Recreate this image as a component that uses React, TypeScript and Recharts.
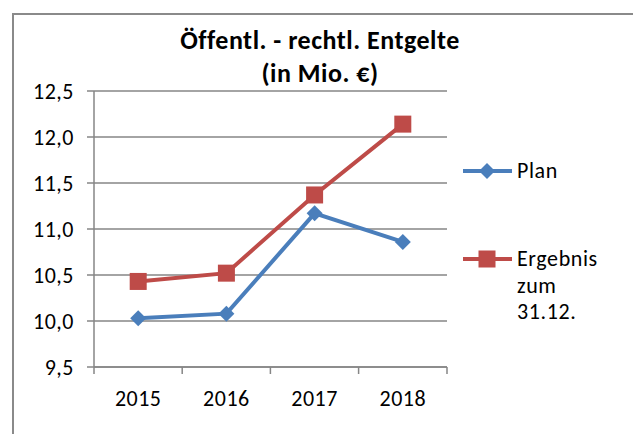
import React from "react";
import { LineChart, Line, XAxis, YAxis, CartesianGrid, Legend } from "recharts";

const years = ["2015", "2016", "2017", "2018"];
const plan = [10.03, 10.08, 11.17, 10.86];
const ergebnis = [10.43, 10.52, 11.37, 12.14];
const yTicks = [9.5, 10, 10.5, 11, 11.5, 12, 12.5];
const seriesNames = ["Plan", "Ergebnis zum 31.12."];

const BLUE = "#4A7EBB";
const RED = "#BE4B48";
const GRID = "#868686";
const FONT = "Carlito, Lato, sans-serif";

const data = years.map((y, i) => ({ year: y, plan: plan[i], ergebnis: ergebnis[i] }));

const TICK = 7;
const X_MARGIN = 16;
const HALF = 44.2;

const Diamond = (props: any) => {
  const { cx, cy } = props;
  if (cx == null || cy == null) return null;
  return <path d={`M${cx},${cy - 8} L${cx + 8},${cy} L${cx},${cy + 8} L${cx - 8},${cy} Z`} fill={BLUE} />;
};

const Square = (props: any) => {
  const { cx, cy } = props;
  if (cx == null || cy == null) return null;
  return <rect x={cx - 8.5} y={cy - 8.5} width={17} height={17} fill={RED} />;
};

const YearTick = (props: any) => {
  const { x, y, payload, index, visibleTicksCount } = props;
  const axisY = y - TICK - X_MARGIN;
  return (
    <g>
      <line x1={x - HALF} x2={x - HALF} y1={axisY} y2={axisY + TICK} stroke={GRID} strokeWidth={1.5} />
      {index === visibleTicksCount - 1 && (
        <line x1={x + HALF} x2={x + HALF} y1={axisY} y2={axisY + TICK} stroke={GRID} strokeWidth={1.5} />
      )}
      <text x={x} y={y} dy="0.71em" textAnchor="middle" fill="#000" fontSize={22} fontFamily={FONT} letterSpacing={0.5}>
        {payload.value}
      </text>
    </g>
  );
};

const LegendBox = () => (
  <div style={{ fontFamily: FONT, fontSize: 22, color: "#000", letterSpacing: 0.6 }}>
    <div style={{ display: "flex", alignItems: "flex-start", height: 88 }}>
      <svg width={62} height={26}>
        <line x1={8} x2={57} y1={13} y2={13} stroke={BLUE} strokeWidth={4} />
        <Diamond cx={32} cy={13} />
      </svg>
      <div style={{ lineHeight: "26px" }}>{seriesNames[0]}</div>
    </div>
    <div style={{ display: "flex", alignItems: "flex-start" }}>
      <svg width={62} height={26}>
        <line x1={8} x2={57} y1={13} y2={13} stroke={RED} strokeWidth={4} />
        <Square cx={32} cy={13} />
      </svg>
      <div style={{ lineHeight: "26.5px", width: 110 }}>
        Ergebnis
        <br />
        zum
        <br />
        31.12.
      </div>
    </div>
  </div>
);

export default function App() {
  return (
    <div style={{ position: "fixed", left: 0, top: 0, width: 633, height: 434, overflow: "hidden", background: "#fff" }}>
      <div
        style={{
          position: "absolute",
          left: 12,
          top: 13,
          width: 700,
          height: 500,
          borderLeft: "2px solid #8a8a8a",
          borderTop: "2px solid #8a8a8a",
        }}
      />
      <div
        style={{
          position: "absolute",
          left: 0,
          width: 640,
          top: 24,
          textAlign: "center",
          fontFamily: FONT,
          fontWeight: "bold",
          fontSize: 26,
          letterSpacing: 0.5,
          lineHeight: "33px",
          color: "#000",
        }}
      >
        Öffentl. - rechtl. Entgelte
        <br />
        (in Mio. €)
      </div>
      <div style={{ position: "absolute", left: 0, top: 0 }}>
        <LineChart width={633} height={434} data={data} margin={{ top: 91, right: 186, bottom: 37, left: 34 }}>
          <CartesianGrid horizontal vertical={false} stroke={GRID} strokeWidth={1.5} />
          <XAxis
            dataKey="year"
            padding={{ left: HALF, right: HALF }}
            axisLine={{ stroke: GRID, strokeWidth: 1.5 }}
            tickLine={false}
            tickSize={TICK}
            tickMargin={X_MARGIN}
            height={30}
            tick={<YearTick />}
            interval={0}
          />
          <YAxis
            domain={[9.5, 12.5]}
            ticks={yTicks}
            width={60}
            axisLine={{ stroke: GRID, strokeWidth: 1.5 }}
            tickLine={{ stroke: GRID, strokeWidth: 1.5 }}
            tickSize={TICK}
            tickMargin={13}
            tickFormatter={(v: number) => v.toFixed(1).replace(".", ",")}
            tick={{ fill: "#000", fontSize: 22, fontFamily: FONT, letterSpacing: 0.5 }}
          />
          <Legend
            layout="vertical"
            align="center"
            verticalAlign="middle"
            wrapperStyle={{ left: 455, top: 158, width: 178 }}
            content={<LegendBox />}
          />
          <Line
            type="linear"
            dataKey="plan"
            name={seriesNames[0]}
            stroke={BLUE}
            strokeWidth={4}
            dot={<Diamond />}
            activeDot={false}
            isAnimationActive={false}
          />
          <Line
            type="linear"
            dataKey="ergebnis"
            name={seriesNames[1]}
            stroke={RED}
            strokeWidth={4}
            dot={<Square />}
            activeDot={false}
            isAnimationActive={false}
          />
        </LineChart>
      </div>
    </div>
  );
}
